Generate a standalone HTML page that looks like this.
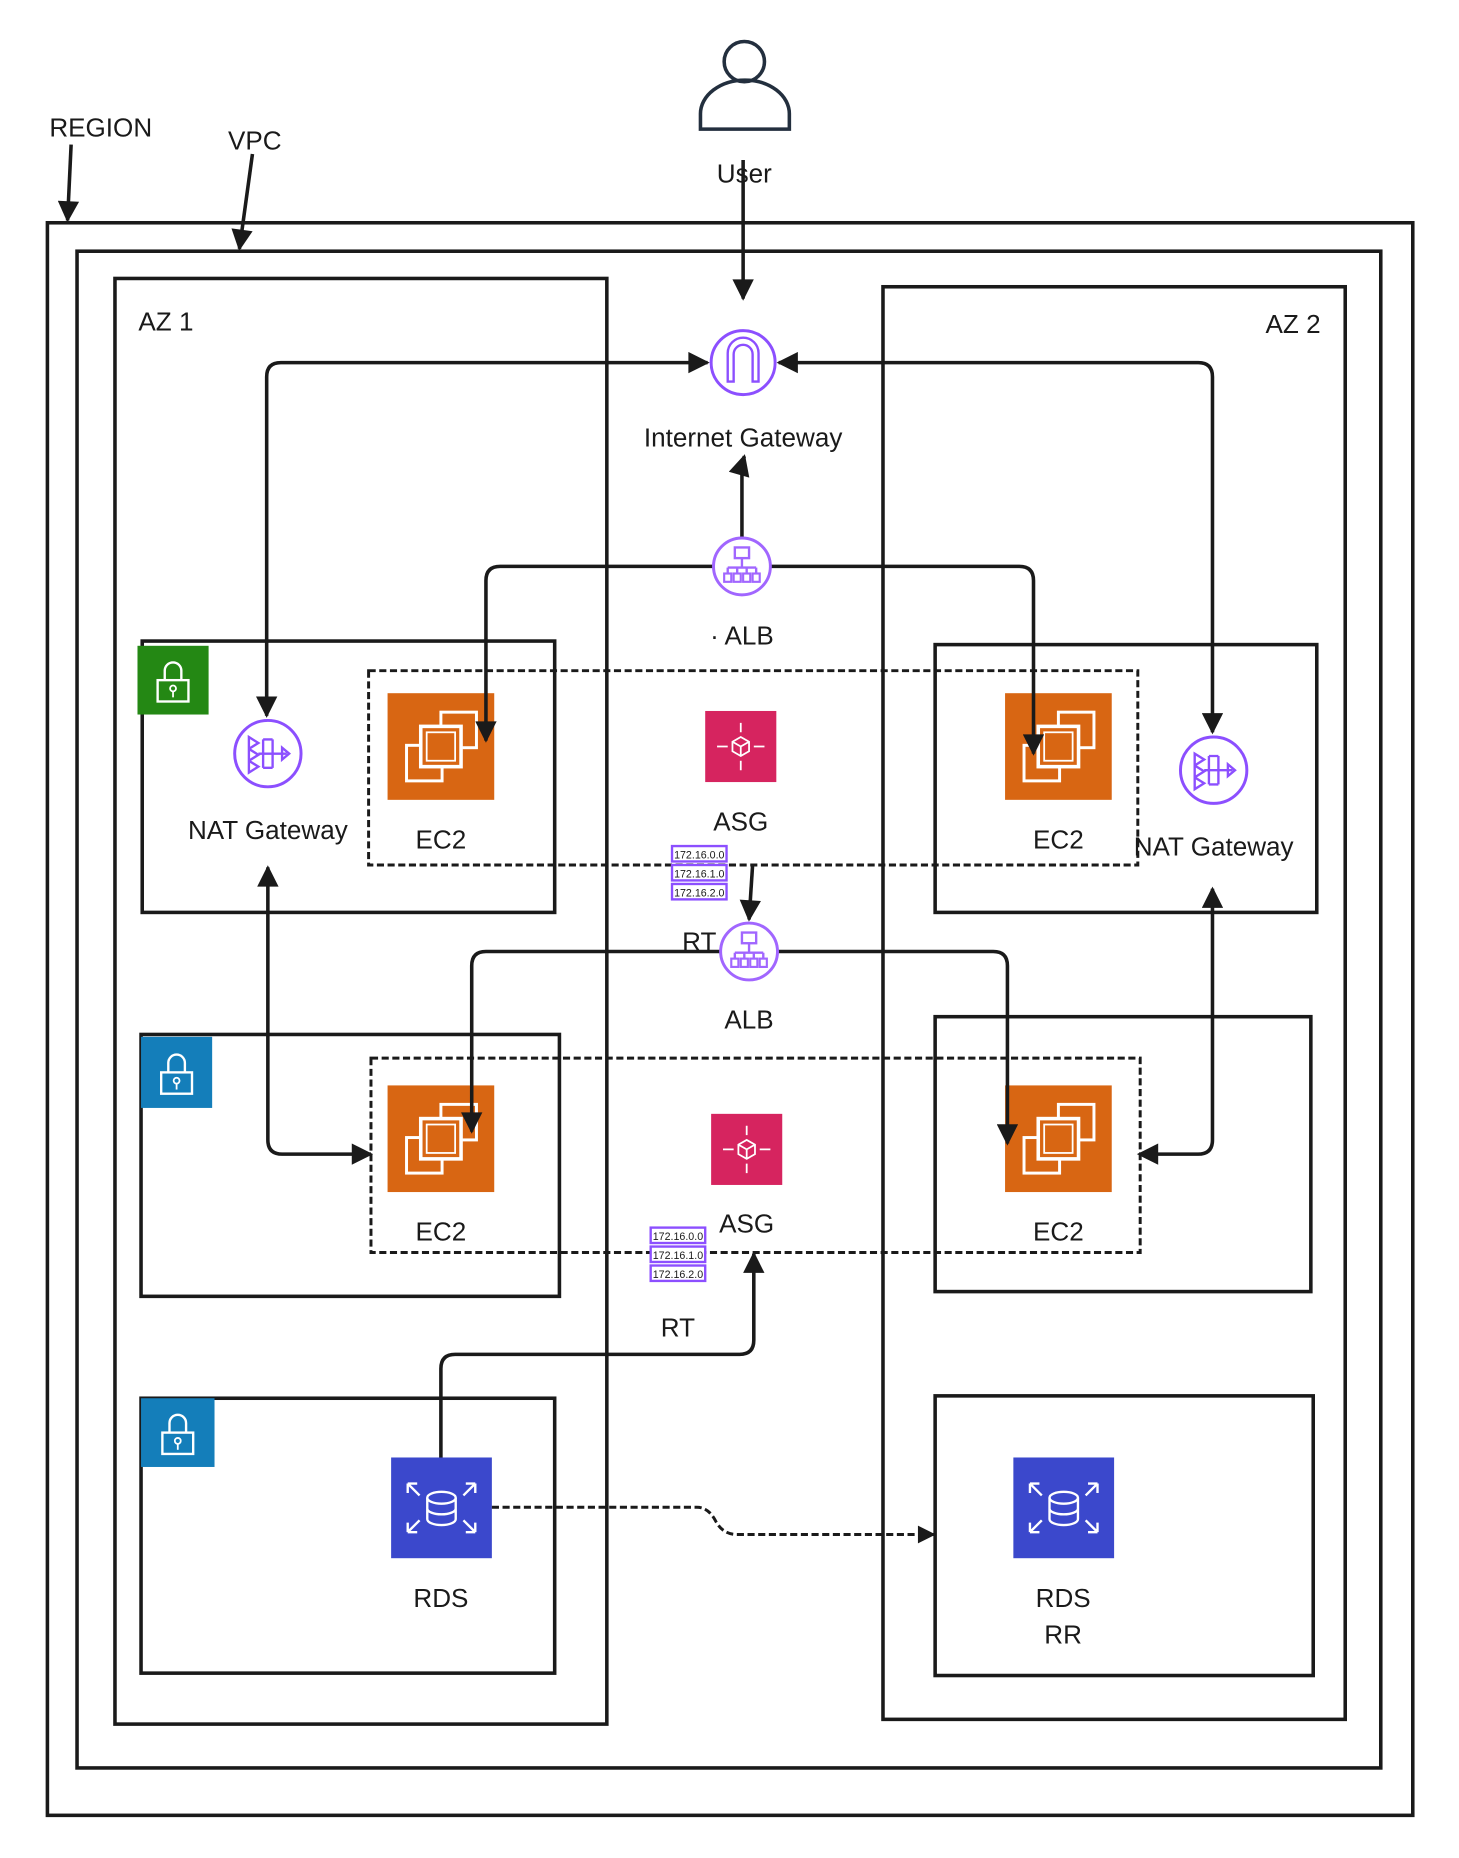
<!DOCTYPE html>
<html><head><meta charset="utf-8"><style>
html,body{margin:0;padding:0;background:#fff;}
svg{display:block}
text{font-family:"Liberation Sans","DejaVu Sans",sans-serif;fill:#1a1a1a;}
</style></head><body>
<svg width="1459" height="1858" viewBox="0 0 1231 1568" preserveAspectRatio="none" xmlns="http://www.w3.org/2000/svg">
<defs>
<marker id="a" viewBox="0 0 10 10" refX="9" refY="5" markerWidth="7" markerHeight="6" orient="auto-start-reverse" markerUnits="strokeWidth">
<path d="M0,0 L10,5 L0,10 z" fill="#1a1a1a"/></marker>
<g id="ec2">
<rect width="90" height="90" fill="#D86613"/>
<rect x="45" y="16" width="30" height="30" fill="none" stroke="#fff" stroke-width="2.5"/>
<rect x="16" y="44" width="30" height="30" fill="none" stroke="#fff" stroke-width="2.5"/>
<rect x="28" y="28" width="34" height="34" fill="#D86613" stroke="#fff" stroke-width="3"/>
<rect x="33" y="33" width="24" height="24" fill="none" stroke="#fff" stroke-width="1.5"/>
</g>
<g id="rds">
<rect width="85" height="85" fill="#3B48CC"/>
<ellipse cx="42.5" cy="34" rx="12" ry="5" fill="none" stroke="#fff" stroke-width="2"/>
<path d="M30.5 34 v18 a12 5 0 0 0 24 0 v-18 M30.5 43 a12 5 0 0 0 24 0" fill="none" stroke="#fff" stroke-width="2"/>
<path d="M14 22 l10 10 M14 22 h8 M14 22 v8 M71 22 l-10 10 M71 22 h-8 M71 22 v8 M14 63 l10 -10 M14 63 h8 M14 63 v-8 M71 63 l-10 -10 M71 63 h-8 M71 63 v-8" stroke="#fff" stroke-width="2" fill="none"/>
</g>
<g id="asg">
<rect width="60" height="60" fill="#D6245F"/>
<path d="M30 22 l7 4 v8 l-7 4 l-7 -4 v-8 z M23 26 l7 4 l7 -4 M30 30 v8" stroke="#fff" stroke-width="1.5" fill="none"/>
<path d="M30 10 v8 M30 42 v8 M10 30 h9 M41 30 h9" stroke="#fff" stroke-width="1.5"/>
</g>
<g id="lock">
<path d="M-7 0 v-8 a7 7 0 0 1 14 0 v8" fill="none" stroke="#fff" stroke-width="2"/>
<rect x="-13" y="0" width="26" height="18" fill="none" stroke="#fff" stroke-width="2"/>
<circle cx="0" cy="7" r="2.5" fill="none" stroke="#fff" stroke-width="1.5"/><path d="M0 9.5 v5" stroke="#fff" stroke-width="1.5"/>
</g>
<g id="alb">
<circle r="24" fill="#fff" stroke="#A166FF" stroke-width="2.5"/>
<rect x="-6" y="-16" width="12" height="9" fill="none" stroke="#A166FF" stroke-width="2"/>
<path d="M0 -7 v8 M-12 1 h24 M-12 1 v5 M-4 1 v5 M4 1 v5 M12 1 v5" stroke="#A166FF" stroke-width="2" fill="none"/>
<rect x="-15" y="6" width="6" height="7" fill="none" stroke="#A166FF" stroke-width="1.8"/>
<rect x="-7" y="6" width="6" height="7" fill="none" stroke="#A166FF" stroke-width="1.8"/>
<rect x="1" y="6" width="6" height="7" fill="none" stroke="#A166FF" stroke-width="1.8"/>
<rect x="9" y="6" width="6" height="7" fill="none" stroke="#A166FF" stroke-width="1.8"/>
</g>
<g id="nat">
<circle r="28" fill="#fff" stroke="#8C4FFF" stroke-width="2.5"/>
<path d="M-16 -14 l8 5 l-8 5 z M-16 -4 l8 5 l-8 5 z M-16 6 l8 5 l-8 5 z" fill="none" stroke="#8C4FFF" stroke-width="2"/>
<path d="M-8 0 h24 M-4 -12 v24 M-4 -12 h8 M-4 12 h8 M4 -12 v24" stroke="#8C4FFF" stroke-width="2" fill="none"/>
<path d="M12 -5 l6 5 l-6 5 z" fill="none" stroke="#8C4FFF" stroke-width="2"/>
</g>
<g id="rt">
<rect x="0" y="0" width="46" height="13" fill="#fff" stroke="#8C4FFF" stroke-width="2"/>
<rect x="0" y="16" width="46" height="13" fill="#fff" stroke="#8C4FFF" stroke-width="2"/>
<rect x="0" y="32" width="46" height="13" fill="#fff" stroke="#8C4FFF" stroke-width="2"/>
</g>
</defs>

<g fill="none" stroke="#1a1a1a" stroke-width="3">
<rect x="40" y="188" width="1152" height="1344"/>
<rect x="65" y="212" width="1100" height="1280"/>
<rect x="97" y="235" width="415" height="1220"/>
<rect x="745" y="242" width="390" height="1209"/>
<rect x="120" y="541" width="348" height="229"/>
<rect x="789" y="544" width="322" height="226"/>
<rect x="119" y="873" width="353" height="221"/>
<rect x="789" y="858" width="317" height="232"/>
<rect x="119" y="1180" width="349" height="232"/>
<rect x="789" y="1178" width="319" height="236"/>
</g>
<g fill="none" stroke="#1a1a1a" stroke-width="2.5" stroke-dasharray="6 3">
<rect x="311" y="566" width="649" height="164"/>
<rect x="313" y="893" width="649" height="164"/>
</g>

<rect x="116" y="545" width="60" height="58" fill="#248814"/><use href="#lock" x="146" y="574"/>
<rect x="119" y="875" width="60" height="60" fill="#147EBA"/><use href="#lock" x="149" y="905"/>
<rect x="119" y="1180" width="62" height="58" fill="#147EBA"/><use href="#lock" x="150" y="1209"/>

<use href="#ec2" x="327" y="585"/><use href="#ec2" x="848" y="585"/>
<use href="#ec2" x="327" y="916"/><use href="#ec2" x="848" y="916"/>
<use href="#asg" x="595" y="600"/><use href="#asg" x="600" y="940"/>
<use href="#rds" x="330" y="1230"/><use href="#rds" x="855" y="1230"/>

<g fill="none" stroke="#1a1a1a" stroke-width="3">
<path d="M60 122 L57 186" marker-end="url(#a)"/>
<path d="M213 130 L202 210" marker-end="url(#a)"/>
<path d="M627 135 V252" marker-end="url(#a)"/>
<path d="M225 604 V318 Q225 306 237 306 H597" marker-start="url(#a)" marker-end="url(#a)"/>
<path d="M1023 618 V318 Q1023 306 1011 306 H657" marker-start="url(#a)" marker-end="url(#a)"/>
<path d="M626 455 V400 Q626 392 628 385" marker-end="url(#a)"/>
<path d="M602 478 H422 Q410 478 410 490 V625" marker-end="url(#a)"/>
<path d="M650 478 H860 Q872 478 872 490 V636" marker-end="url(#a)"/>
<path d="M635 730 L632 776" marker-end="url(#a)"/>
<path d="M608 803 H410 Q398 803 398 815 V955" marker-end="url(#a)"/>
<path d="M656 803 H838 Q850 803 850 815 V965" marker-end="url(#a)"/>
<path d="M226 732 V962 Q226 974 238 974 H313" marker-start="url(#a)" marker-end="url(#a)"/>
<path d="M1023 750 V962 Q1023 974 1011 974 H961" marker-start="url(#a)" marker-end="url(#a)"/>
<path d="M372 1230 V1155 Q372 1143 384 1143 H624 Q636 1143 636 1131 V1058" marker-end="url(#a)"/>
<path d="M415 1272 H588 Q598 1272 604 1284 Q610 1295 622 1295 H788" stroke-dasharray="6 3" stroke-width="2.5" marker-end="url(#a)"/>
</g>

<circle cx="627" cy="306" r="27" fill="#fff" stroke="#8C4FFF" stroke-width="2.5"/>
<path d="M614 322 V298 a13 13 0 0 1 26 0 V322 h-5 V299 a8 8 0 0 0 -16 0 V322 z" fill="none" stroke="#8C4FFF" stroke-width="2"/>
<use href="#alb" x="626" y="478"/><use href="#alb" x="632" y="803"/>
<use href="#nat" x="226" y="636"/><use href="#nat" x="1024" y="650"/>

<g transform="translate(567,714)"><use href="#rt"/>
<text x="23" y="10.5" font-size="9" text-anchor="middle" fill="#6b3fd4">172.16.0.0</text>
<text x="23" y="26.5" font-size="9" text-anchor="middle" fill="#6b3fd4">172.16.1.0</text>
<text x="23" y="42.5" font-size="9" text-anchor="middle" fill="#6b3fd4">172.16.2.0</text></g>
<g transform="translate(549,1036)"><use href="#rt"/>
<text x="23" y="10.5" font-size="9" text-anchor="middle" fill="#6b3fd4">172.16.0.0</text>
<text x="23" y="26.5" font-size="9" text-anchor="middle" fill="#6b3fd4">172.16.1.0</text>
<text x="23" y="42.5" font-size="9" text-anchor="middle" fill="#6b3fd4">172.16.2.0</text></g>

<circle cx="628" cy="52" r="17" fill="none" stroke="#232F3E" stroke-width="3"/>
<path d="M591 109 V96 a37 28 0 0 1 75 0 V109 z" fill="none" stroke="#232F3E" stroke-width="3"/>

<g font-size="22" text-anchor="middle">
<text x="85" y="115" fill="#444">REGION</text>
<text x="215" y="126" fill="#444">VPC</text>
<text x="140" y="279" fill="#444">AZ 1</text>
<text x="1091" y="281" fill="#444">AZ 2</text>
<text x="628" y="154">User</text>
<text x="627" y="377">Internet Gateway</text>
<text x="626" y="544">·  ALB</text>
<text x="226" y="708">NAT Gateway</text>
<text x="372" y="716">EC2</text>
<text x="625" y="701">ASG</text>
<text x="893" y="716">EC2</text>
<text x="1024" y="722">NAT Gateway</text>
<text x="590" y="802">RT</text>
<text x="632" y="868">ALB</text>
<text x="372" y="1047">EC2</text>
<text x="630" y="1040">ASG</text>
<text x="893" y="1047">EC2</text>
<text x="572" y="1128">RT</text>
<text x="372" y="1356">RDS</text>
<text x="897" y="1356">RDS</text>
<text x="897" y="1387">RR</text>
</g>
</svg>
</body></html>
